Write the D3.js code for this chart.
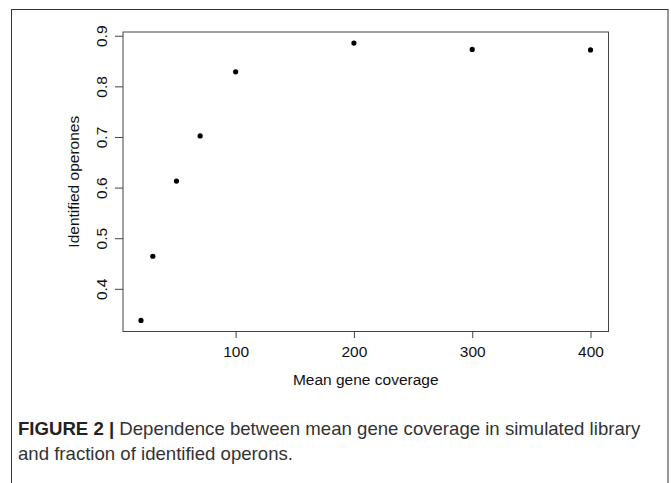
<!DOCTYPE html>
<html>
<head>
<meta charset="utf-8">
<script src="https://cdn.jsdelivr.net/npm/d3@7"></script>
<style>
  body { margin: 0; background: #fff; }
  svg text { font-family: "Liberation Sans", Arial, sans-serif; }
</style>
</head>
<body>
<div id="chart"></div>
<script>
// Data
const coverage = [20, 30, 50, 70, 100, 200, 300, 400];
const identified = [0.3376, 0.4644, 0.6129, 0.702, 0.8287, 0.8855, 0.873, 0.872];
const xTicks = [100, 200, 300, 400];
const yTicks = [0.4, 0.5, 0.6, 0.7, 0.8, 0.9];
const xTitle = "Mean gene coverage";
const yTitle = "Identified operones";
const captionBold = "FIGURE 2 |";
const captionLines = [
  " Dependence between mean gene coverage in simulated library",
  "and fraction of identified operons."
];

const width = 671, height = 483;
const plot = { left: 123, right: 608.5, top: 32, bottom: 331.5 };
const axisColor = "#444";
const labelSize = "15.5px";
const captionSize = "18.6px";

const svg = d3.select("#chart")
  .append("svg")
  .attr("width", width)
  .attr("height", height);

// Outer figure frame
svg.append("rect")
  .attr("x", 11.5)
  .attr("y", 9.5)
  .attr("width", 656.5)
  .attr("height", 500)
  .attr("fill", "none")
  .attr("stroke", "#333")
  .attr("stroke-width", 1);

// R-style domain: data range padded by 4%
function pad(ext) {
  let d = (ext[1] - ext[0]) * 0.04;
  return [ext[0] - d, ext[1] + d];
}

let x = d3.scaleLinear().domain(pad(d3.extent(coverage))).range([plot.left, plot.right]);
let y = d3.scaleLinear().domain(pad(d3.extent(identified))).range([plot.bottom, plot.top]);

// x axis
let xAxis = svg.append("g")
  .attr("transform", "translate(0," + plot.bottom + ")")
  .call(d3.axisBottom(x).tickValues(xTicks).tickSize(6.5).tickPadding(8).tickFormat(d3.format("d")));
xAxis.select(".domain").remove();
xAxis.selectAll("line").attr("stroke", axisColor);
xAxis.selectAll("text")
  .attr("fill", "#111")
  .style("font-size", labelSize);

// y axis with rotated labels
let yAxis = svg.append("g")
  .attr("transform", "translate(" + plot.left + ",0)")
  .call(d3.axisLeft(y).tickValues(yTicks).tickSize(8).tickFormat(d3.format(".1f")));
yAxis.select(".domain").remove();
yAxis.selectAll("line").attr("stroke", axisColor);
yAxis.selectAll("text")
  .attr("fill", "#111")
  .style("font-size", labelSize)
  .attr("x", null)
  .attr("dy", null)
  .attr("text-anchor", "middle")
  .attr("transform", "translate(-16,0) rotate(-90)");

// plot box
svg.append("rect")
  .attr("x", plot.left)
  .attr("y", plot.top)
  .attr("width", plot.right - plot.left)
  .attr("height", plot.bottom - plot.top)
  .attr("fill", "none")
  .attr("stroke", axisColor)
  .attr("stroke-width", 1);

// points
svg.append("g")
  .selectAll("circle")
  .data(coverage.map((c, i) => ({ c: c, v: identified[i] })))
  .join("circle")
  .attr("cx", d => x(d.c))
  .attr("cy", d => y(d.v))
  .attr("r", 2.6)
  .attr("fill", "#000");

// axis titles
svg.append("text")
  .attr("x", (plot.left + plot.right) / 2)
  .attr("y", 385)
  .attr("text-anchor", "middle")
  .attr("fill", "#111")
  .style("font-size", labelSize)
  .text(xTitle);

svg.append("text")
  .attr("transform", "translate(79," + (plot.top + plot.bottom) / 2 + ") rotate(-90)")
  .attr("text-anchor", "middle")
  .attr("fill", "#111")
  .style("font-size", labelSize)
  .text(yTitle);

// caption
let cap = svg.append("text")
  .attr("x", 18)
  .attr("y", 435)
  .attr("fill", "#333")
  .style("font-size", captionSize);
cap.append("tspan")
  .style("font-weight", "bold")
  .attr("fill", "#222")
  .text(captionBold);
cap.append("tspan").text(captionLines[0]);

svg.append("text")
  .attr("x", 18)
  .attr("y", 460)
  .attr("fill", "#333")
  .style("font-size", captionSize)
  .text(captionLines[1]);
</script>
</body>
</html>
